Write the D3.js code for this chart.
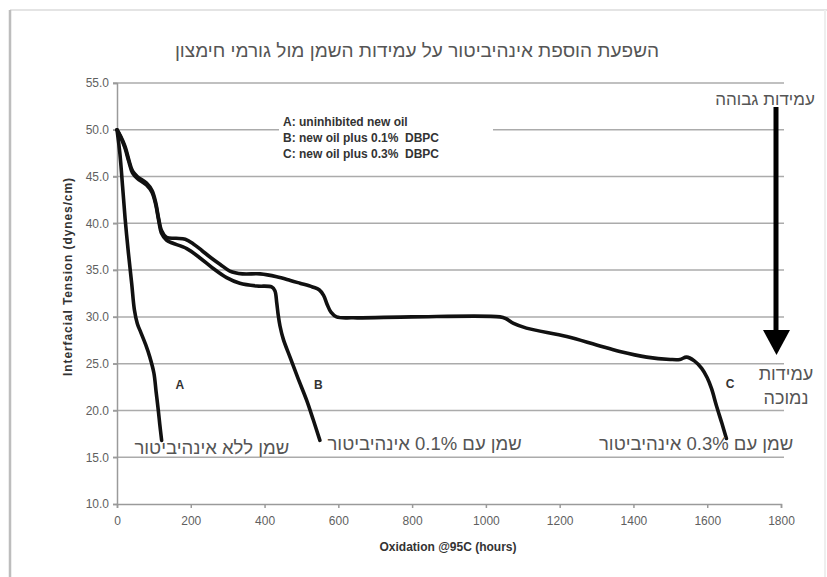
<!DOCTYPE html>
<html>
<head>
<meta charset="utf-8">
<script src="https://cdn.jsdelivr.net/npm/d3@7"></script>
<style>
  body { margin: 0; background: #fff; }
  svg { display: block; }
</style>
</head>
<body>
<svg id="chart" width="827" height="577"></svg>
<script>
// curves: [hours, dynes/cm]
var curveA = [[0,50],[8,47.4],[15,44],[22,40.5],[31,36.8],[40,33.5],[47,30.8],[55,29.3],[65,28.3],[78,27],[89,25.7],[100,24],[106,22],[112,20],[116,18.5],[121,16.8]];
var curveB = [[0,50],[10,49.2],[22,48],[32,46.6],[42,45.4],[55,44.8],[80,44.1],[95,43.3],[105,42],[113,40.3],[121,38.9],[134,38.2],[150,37.9],[189,37.3],[225,36.3],[260,35.2],[297,34.2],[333,33.6],[379,33.3],[419,33.2],[428,32.8],[433,31.5],[437,30.2],[442,29],[451,27.6],[469,25.7],[490,23.5],[514,21.1],[532,19],[550,16.8]];
var curveC = [[0,50],[10,49.3],[22,48.2],[32,46.8],[42,45.6],[55,45],[80,44.3],[95,43.5],[105,42.2],[113,40.5],[121,39.2],[134,38.5],[160,38.4],[185,38.3],[207,37.8],[230,37.1],[252,36.4],[280,35.6],[306,34.9],[340,34.6],[388,34.6],[433,34.3],[470,33.9],[496,33.6],[530,33.2],[548,32.9],[560,32.3],[570,31.3],[580,30.5],[595,30],[640,29.9],[800,30],[1038,30],[1055,29.8],[1075,29.3],[1110,28.8],[1219,27.9],[1300,27],[1363,26.3],[1436,25.7],[1500,25.45],[1526,25.45],[1544,25.7],[1565,25.3],[1585,24.5],[1600,23.5],[1612,22.3],[1625,20.5],[1640,18.6],[1652,17]];

var xTicks = [0,200,400,600,800,1000,1200,1400,1600,1800];
var yTicks = [10,15,20,25,30,35,40,45,50,55];

var title = "השפעת הוספת אינהיביטור על עמידות השמן מול גורמי חימצון";
var legendLines = ["A: uninhibited new oil", "B: new oil plus 0.1%  DBPC", "C: new oil plus 0.3%  DBPC"];
var curveLetters = [{t: "A", x: 170, y: 22.3}, {t: "B", x: 546, y: 22.3}, {t: "C", x: 1662, y: 22.4}];
var hebLabels = [
  {t: "שמן ללא אינהיביטור", x: 257, y: 15.3},
  {t: "שמן עם 0.1% אינהיביטור", x: 834, y: 15.8},
  {t: "שמן עם 0.3% אינהיביטור", x: 1570, y: 15.8}
];

var margin = {top: 83, left: 117};
var width = 664, height = 421;
var font = 'Liberation Sans, Arial, sans-serif';

var svg = d3.select('#chart');

// frame of the original screenshot
svg.append('line').attr('x1', 10).attr('x2', 827).attr('y1', 10).attr('y2', 10)
    .attr('stroke', '#e4e4e4').attr('stroke-width', 2);
svg.append('line').attr('x1', 10).attr('x2', 10).attr('y1', 10).attr('y2', 577)
    .attr('stroke', '#bdbdbd').attr('stroke-width', 2.5);
svg.append('line').attr('x1', 825).attr('x2', 825).attr('y1', 10).attr('y2', 577)
    .attr('stroke', '#eee').attr('stroke-width', 2);

svg.append('text')
    .attr('x', 417).attr('y', 57)
    .attr('text-anchor', 'middle')
    .attr('font-family', font)
    .attr('font-size', 19)
    .attr('fill', '#555')
    .text(title);

var chart = svg.append('g')
    .attr('transform', `translate(${margin.left}, ${margin.top})`);

var x = d3.scaleLinear().domain([0, 1800]).range([0, width]);
var y = d3.scaleLinear().domain([10, 55]).range([height, 0]);

// gridlines
chart.append('g')
  .selectAll('line')
  .data(yTicks.filter(function(d) { return d > 10; }))
  .enter().append('line')
    .attr('x1', -4).attr('x2', width + 3)
    .attr('y1', function(d) { return y(d); })
    .attr('y2', function(d) { return y(d); })
    .attr('stroke', '#ababab')
    .attr('stroke-width', 1.5);

var y_axis = d3.axisLeft(y).tickValues(yTicks).tickSize(4).tickPadding(4)
    .tickFormat(d3.format('.1f'));
var x_axis = d3.axisBottom(x).tickValues(xTicks).tickSize(4).tickPadding(8)
    .tickFormat(d3.format('d'));

var gy = chart.append('g').call(y_axis);
var gx = chart.append('g').attr('transform', `translate(0, ${height})`).call(x_axis);

[gx, gy].forEach(function(g) {
  g.select('.domain').attr('stroke', '#9a9a9a').attr('stroke-width', 1.5);
  g.selectAll('.tick line').attr('stroke', '#9a9a9a').attr('stroke-width', 1.5);
  g.selectAll('.tick text')
    .attr('font-family', font)
    .attr('font-size', 12)
    .attr('fill', '#5f5f5f');
});

// legend box (interrupts the 50 gridline)
var lg = chart.append('g').attr('transform', 'translate(162, 31)');
lg.append('rect').attr('x', 0).attr('y', 0).attr('width', 214).attr('height', 50).attr('fill', '#fff');
lg.selectAll('text')
  .data(legendLines)
  .enter().append('text')
    .attr('x', 4)
    .attr('y', function(d, i) { return 12 + i * 16; })
    .attr('font-family', font)
    .attr('font-weight', 'bold')
    .attr('font-size', 12)
    .attr('fill', '#333')
    .attr('xml:space', 'preserve')
    .text(function(d) { return d; });

var line = d3.line()
    .x(function(d) { return x(d[0]); })
    .y(function(d) { return y(d[1]); })
    .curve(d3.curveCatmullRom.alpha(0.5));

chart.selectAll('.curve')
  .data([curveA, curveB, curveC])
  .enter().append('path')
    .attr('class', 'curve')
    .attr('d', line)
    .attr('fill', 'none')
    .attr('stroke', '#111')
    .attr('stroke-width', 3.6)
    .attr('stroke-linejoin', 'round')
    .attr('stroke-linecap', 'round');

chart.selectAll('.letter')
  .data(curveLetters)
  .enter().append('text')
    .attr('x', function(d) { return x(d.x); })
    .attr('y', function(d) { return y(d.y); })
    .attr('text-anchor', 'middle')
    .attr('font-family', font)
    .attr('font-weight', 'bold')
    .attr('font-size', 12)
    .attr('fill', '#333')
    .text(function(d) { return d.t; });

chart.selectAll('.heb')
  .data(hebLabels)
  .enter().append('text')
    .attr('x', function(d) { return x(d.x); })
    .attr('y', function(d) { return y(d.y); })
    .attr('text-anchor', 'middle')
    .attr('font-family', font)
    .attr('font-size', 18.5)
    .attr('fill', '#555')
    .text(function(d) { return d.t; });

chart.append('text')
    .attr('transform', `translate(-45, ${height / 2 - 17}) rotate(-90)`)
    .attr('text-anchor', 'middle')
    .attr('font-family', font)
    .attr('font-weight', 'bold')
    .attr('font-size', 12)
    .attr('letter-spacing', 0.9)
    .attr('fill', '#333')
    .text('Interfacial Tension (dynes/cm)');

chart.append('text')
    .attr('x', x(900) - 1).attr('y', height + 47)
    .attr('text-anchor', 'middle')
    .attr('font-family', font)
    .attr('font-weight', 'bold')
    .attr('font-size', 12)
    .attr('fill', '#333')
    .text('Oxidation @95C (hours)');

// resistance arrow on the right
svg.append('text')
    .attr('x', 765).attr('y', 105)
    .attr('text-anchor', 'middle')
    .attr('font-family', font)
    .attr('font-size', 17)
    .attr('fill', '#555')
    .text('עמידות גבוהה');
svg.append('line')
    .attr('x1', 776).attr('x2', 776).attr('y1', 107).attr('y2', 334)
    .attr('stroke', '#000').attr('stroke-width', 5);
svg.append('path')
    .attr('d', 'M763,330 L790,330 L776.5,355 Z')
    .attr('fill', '#000');
svg.append('text')
    .attr('x', 786).attr('y', 380)
    .attr('text-anchor', 'middle')
    .attr('font-family', font)
    .attr('font-size', 18)
    .attr('fill', '#555')
    .text('עמידות');
svg.append('text')
    .attr('x', 786).attr('y', 404)
    .attr('text-anchor', 'middle')
    .attr('font-family', font)
    .attr('font-size', 18)
    .attr('fill', '#555')
    .text('נמוכה');
</script>
</body>
</html>
